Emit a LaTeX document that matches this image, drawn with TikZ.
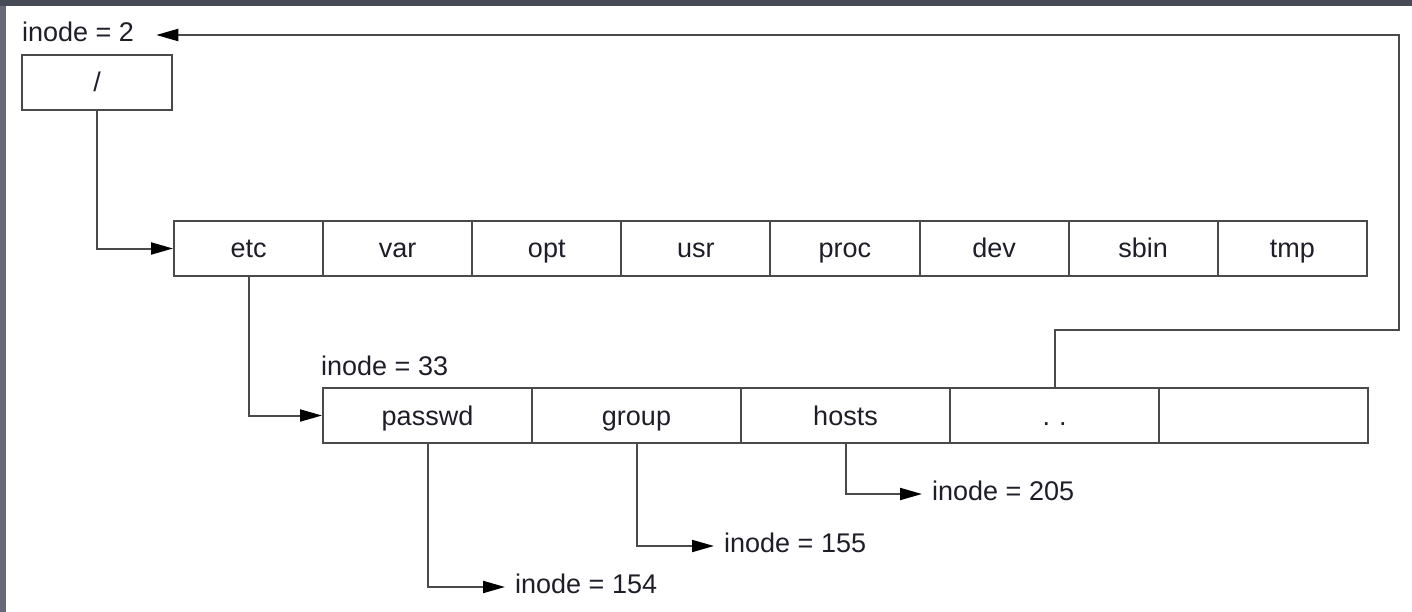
\documentclass[tikz,border=0pt]{standalone}
\usepackage{fontspec}
\setmainfont{Liberation Sans}
\usetikzlibrary{arrows.meta}
\definecolor{linecol}{HTML}{4A4A4A}
\definecolor{txtcol}{HTML}{1E1E28}
\definecolor{framedark}{HTML}{474B57}
\definecolor{frameside}{HTML}{666A76}
\tikzset{
  cell/.style={draw=linecol, line width=2pt, rectangle, inner sep=0pt,
               minimum height=55pt, text=txtcol, text height=22pt, text depth=3pt,
               font=\fontsize{27}{31}\selectfont},
  dircell/.style={cell, minimum width=149.1pt},
  filecell/.style={cell, minimum width=209pt},
  rootcell/.style={cell, minimum width=150pt},
  lbl/.style={inner xsep=10pt, inner ysep=0pt, text=txtcol, text height=19pt, text depth=6pt,
              font=\fontsize{27}{31}\selectfont},
  link/.style={draw=linecol, line width=2pt,
               -{Triangle[length=22pt,width=12pt,color=black]}},
}
\begin{document}
\begin{tikzpicture}[x=1pt, y=-1pt]
  % page and window frame
  \useasboundingbox (0,0) rectangle (1412,612);
  \fill[white] (0,0) rectangle (1412,612);
  \fill[frameside] (0,0) rectangle (6,612);
  \fill[framedark] (0,0) rectangle (1412,6);

  % root directory
  \node[rootcell] (root) at (97,82.5) {/};
  \node[lbl, anchor=west] (i2) at (12,35) {inode = 2};

  % entries of /
  \foreach \name/\txt [count=\i from 0] in
      {etc/etc, var/var, opt/opt, usr/usr, proc/proc, dev/dev, sbin/sbin, tmp/tmp}
    \node[dircell] (\name) at ({174+149.1*(\i+0.5)},248.5) {\txt};

  % entries of /etc
  \node[lbl, anchor=west] (i33) at (311,369) {inode = 33};
  \foreach \name/\txt [count=\i from 0] in
      {passwd/passwd, group/group, hosts/hosts, dots/{.\,\,.}, spare/{}}
    \node[filecell] (\name) at ({323+209*(\i+0.5)},415.5) {\txt};

  % inode labels of the files
  \node[lbl, anchor=west] (i154) at (505,587) {inode = 154};
  \node[lbl, anchor=west] (i155) at (714,546) {inode = 155};
  \node[lbl, anchor=west] (i205) at (922,494) {inode = 205};

  % connectors
  \draw[link] (root.south) |- (etc.west);
  \draw[link] (etc.south) |- (passwd.west);
  \draw[link] (passwd.south) |- (i154.west);
  \draw[link] (group.south) |- (i155.west);
  \draw[link] (hosts.south) |- (i205.west);
  \coordinate (turn) at (1399,330);
  \draw[link] (dots.north) |- (turn) |- ([xshift=12pt]i2.east);
\end{tikzpicture}
\end{document}
